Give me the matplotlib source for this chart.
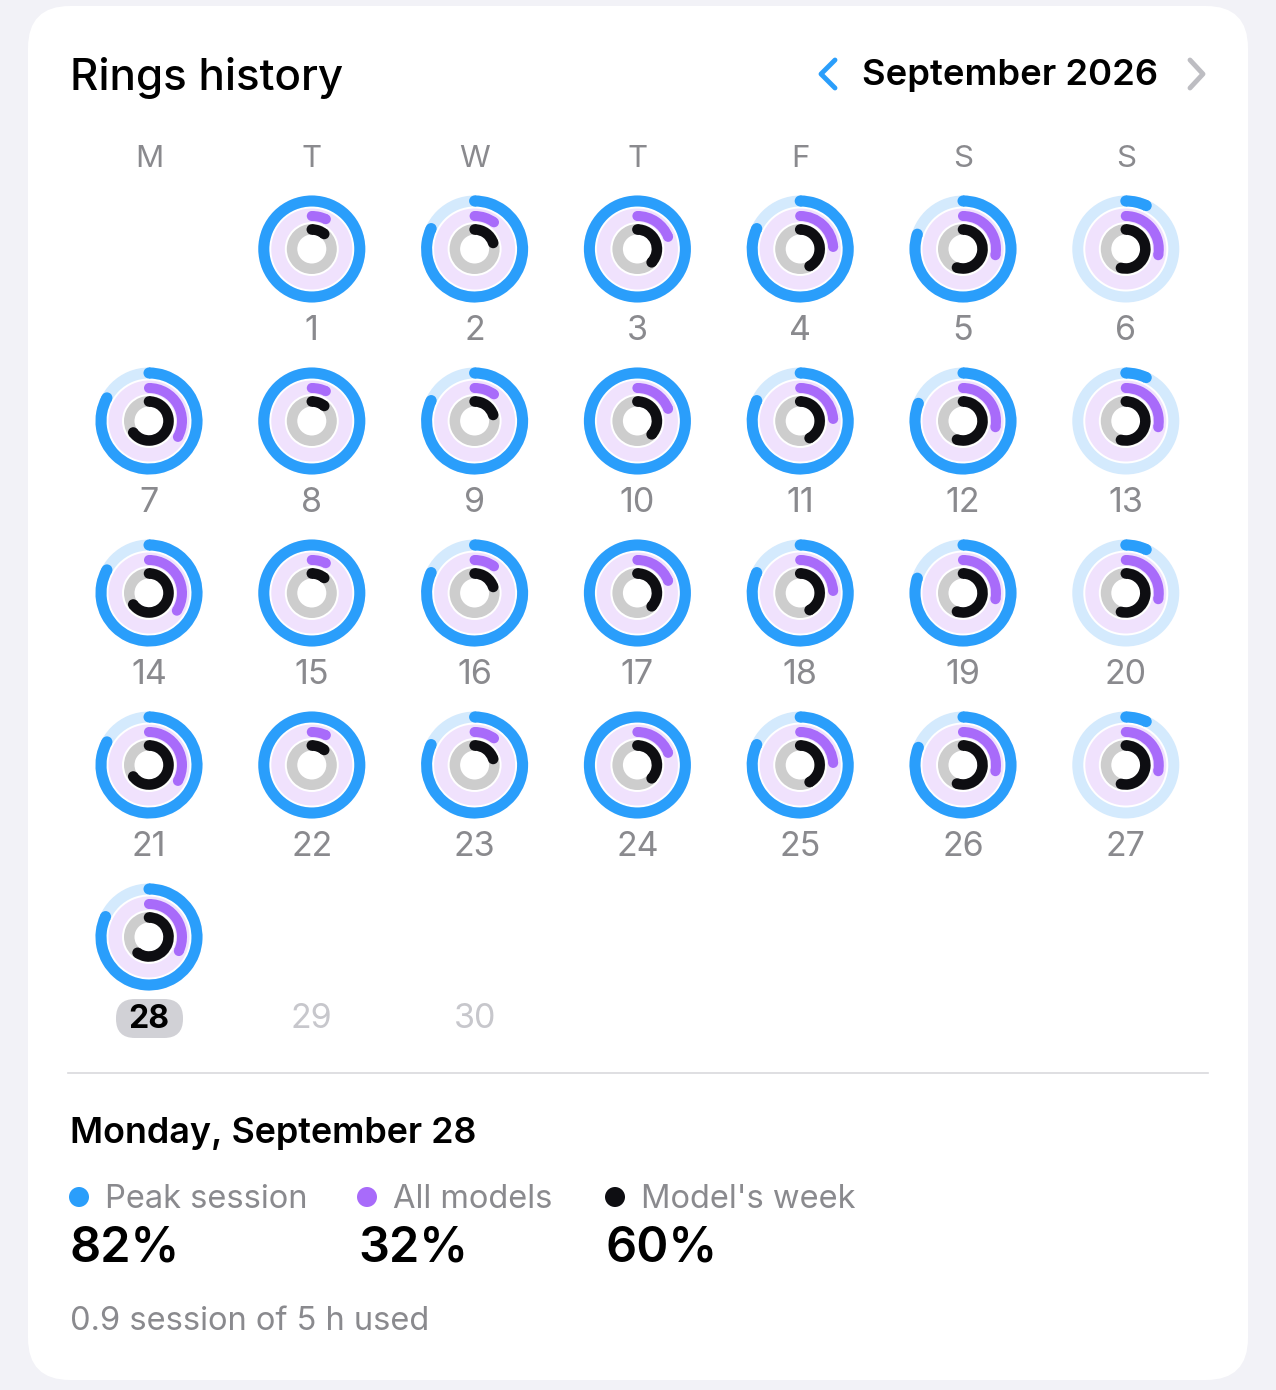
import numpy as np
import matplotlib.pyplot as plt
from matplotlib.patches import Wedge, Circle, FancyBboxPatch

plt.rcParams["font.family"] = ["Inter", "DejaVu Sans"]

# ---- data ----
weekdays = ["M", "T", "W", "T", "F", "S", "S"]
days = list(range(1, 31))
first_weekday = 1  # Sept 1 is a Tuesday
today = 28

peak_session = [1.00, 0.82, 1.00, 0.82, 0.80, 0.07, 0.83,
                1.00, 0.82, 1.00, 0.82, 0.81, 0.07, 0.83,
                1.00, 0.82, 1.00, 0.82, 0.80, 0.07, 0.83,
                1.00, 0.82, 1.00, 0.82, 0.81, 0.07, 0.82]
all_models = [0.07, 0.10, 0.19, 0.24, 0.28, 0.28, 0.33,
              0.07, 0.10, 0.19, 0.24, 0.28, 0.28, 0.34,
              0.07, 0.10, 0.19, 0.24, 0.28, 0.28, 0.33,
              0.07, 0.10, 0.19, 0.24, 0.28, 0.28, 0.32]
models_week = [0.11, 0.20, 0.37, 0.42, 0.55, 0.54, 0.65,
               0.11, 0.20, 0.37, 0.42, 0.55, 0.54, 0.65,
               0.11, 0.20, 0.37, 0.42, 0.55, 0.54, 0.65,
               0.11, 0.20, 0.37, 0.42, 0.55, 0.54, 0.60]

legend_labels = ["Peak session", "All models", "Model's week"]
legend_values = ["82%", "32%", "60%"]
summary_title = "Monday, September 28"
footnote = "0.9 session of 5 h used"
month_label = "September 2026"

# ---- colours ----
BLUE = "#2A9EFB"
BLUE_TRACK = "#D4EAFD"
PURPLE = "#A86BFA"
PURPLE_TRACK = "#F0E2FD"
BLACK = "#0E0E12"
GREY_TRACK = "#CDCDCD"
LABEL_GREY = "#8A8A8E"

fig = plt.figure(figsize=(12.76, 13.9), dpi=100)
fig.patch.set_facecolor("#F2F2F7")
ax = fig.add_axes([0, 0, 1, 1])
ax.set_xlim(0, 1276)
ax.set_ylim(1390, 0)
ax.axis("off")

# card
card = FancyBboxPatch((28, 6), 1220, 1374, boxstyle="round,pad=0,rounding_size=42",
                      facecolor="white", edgecolor="none")
ax.add_patch(card)

ax.text(70, 78, "Rings history", fontsize=31.6, fontweight="medium", color="black",
        ha="left", va="center")
ax.text(1158, 76, month_label, fontsize=26.2, fontweight="semibold", color="black",
        ha="right", va="center")
ax.plot([835, 821, 835], [60, 74, 88], color=BLUE, lw=3.5, solid_capstyle="round",
        solid_joinstyle="round")
ax.plot([1190, 1203, 1190], [60, 74, 88], color="#BDBDC2", lw=3.5, solid_capstyle="round",
        solid_joinstyle="round")

col_x = [149 + i * 162.8 for i in range(7)]
row_y = [249 + i * 172 for i in range(5)]

for i, wd in enumerate(weekdays):
    ax.text(col_x[i], 159, wd, fontsize=22.5, color=LABEL_GREY, ha="center", va="center")


def arc(cx, cy, r, w, frac, color):
    if frac >= 0.999:
        ax.add_patch(Wedge((cx, cy), r + w / 2, 0, 360, width=w, color=color, lw=0))
        return
    t1 = -90
    t2 = -90 + 360 * frac
    ax.add_patch(Wedge((cx, cy), r + w / 2, t1, t2, width=w, color=color, lw=0))
    for t in (t1, t2):
        a = np.radians(t)
        ax.add_patch(Circle((cx + r * np.cos(a), cy + r * np.sin(a)), w / 2,
                            color=color, lw=0))


for d in days:
    slot = d - 1 + first_weekday
    cx = col_x[slot % 7]
    cy = row_y[slot // 7]
    ny = cy + 82
    if d <= len(peak_session):
        k = d - 1
        ax.add_patch(Wedge((cx, cy), 53.5, 0, 360, width=11, color=BLUE_TRACK, lw=0))
        ax.add_patch(Wedge((cx, cy), 40.5, 0, 360, width=13.5, color=PURPLE_TRACK, lw=0))
        ax.add_patch(Wedge((cx, cy), 25, 0, 360, width=10.5, color=GREY_TRACK, lw=0))
        arc(cx, cy, 48, 11, peak_session[k], BLUE)
        arc(cx, cy, 33, 10, all_models[k], PURPLE)
        arc(cx, cy, 19.5, 10.5, models_week[k], BLACK)
    if d == today:
        ax.add_patch(FancyBboxPatch((cx - 33, ny - 20), 67, 39,
                                    boxstyle="round,pad=0,rounding_size=19",
                                    facecolor="#D1D1D6", edgecolor="none"))
        ax.text(cx, ny, str(d), fontsize=23, fontweight="bold", color="black",
                ha="center", va="center")
    elif d > today:
        ax.text(cx, ny, str(d), fontsize=24.5, color="#C7C7CC", ha="center", va="center")
    else:
        ax.text(cx, ny, str(d), fontsize=24.5, color=LABEL_GREY, ha="center", va="center")

ax.plot([68, 1208], [1073, 1073], color="#D9D9DD", lw=1.2)

ax.text(70, 1134, summary_title, fontsize=25.9, fontweight="semibold", color="black",
        ha="left", va="center")

legend_x = [70, 358, 606]
legend_colors = [BLUE, PURPLE, BLACK]
for lx, lab, val, c in zip(legend_x, legend_labels, legend_values, legend_colors):
    ax.add_patch(Circle((lx + 9, 1197), 10, color=c, lw=0))
    ax.text(lx + 35, 1199, lab, fontsize=23.5, color=LABEL_GREY, ha="left", va="center")
    ax.text(lx, 1249, val, fontsize=35, fontweight="semibold", color="black",
            ha="left", va="center")

ax.text(70, 1321, footnote, fontsize=23.5, color=LABEL_GREY, ha="left", va="center")

fig.savefig("out.png", dpi=100, facecolor=fig.get_facecolor())
